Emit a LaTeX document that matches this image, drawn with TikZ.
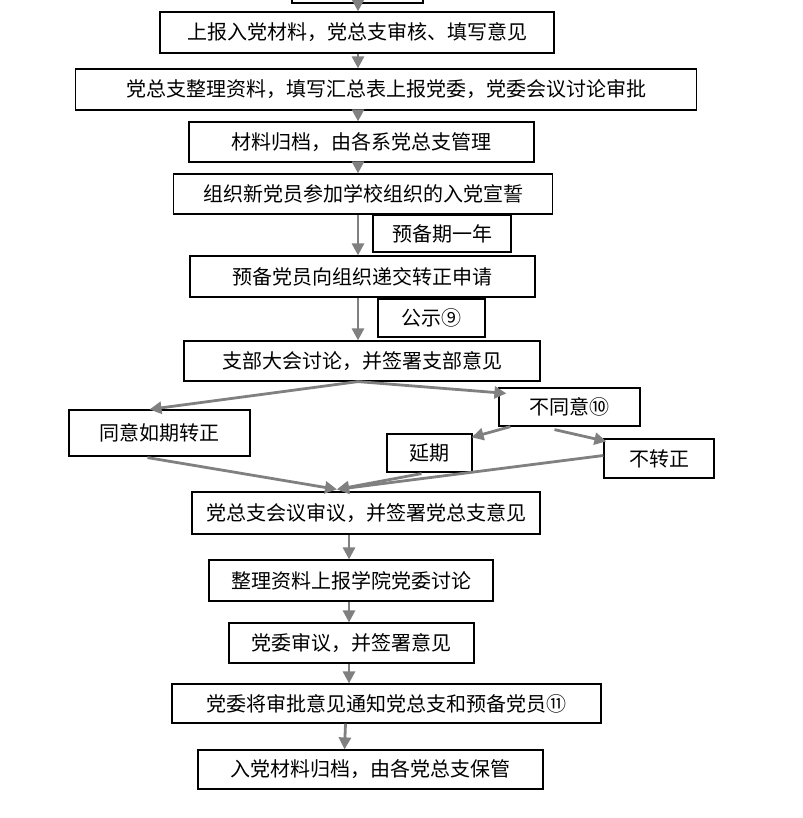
\documentclass[tikz,border=0pt]{standalone}
\usepackage{fontspec}
\setmainfont{Noto Sans CJK SC}
\usetikzlibrary{arrows.meta}
\tikzset{
  stage/.style={draw,line width=1.2pt,fill=white,inner sep=0pt,
    font=\fontsize{20}{22}\selectfont},
  flow/.style={draw=gray,line width=2.8pt,
    -{Triangle[length=12pt,width=12pt]}}
}
\begin{document}
\begin{tikzpicture}[x=1pt,y=-1pt]
\path[use as bounding box,clip] (0,0) rectangle (802,818);
\coordinate (spine) at (358,0);
\coordinate (lowspine) at (349,0);
\node[stage,minimum width=131,minimum height=40] (prev) at (357.5,-17) {};
\node[stage,minimum width=394,minimum height=41] (report) at (357,32.5)
  {上报入党材料，党总支审核、填写意见};
\node[stage,minimum width=621,minimum height=41] (summary) at (386,89.5)
  {党总支整理资料，填写汇总表上报党委，党委会议讨论审批};
\node[stage,minimum width=345,minimum height=40] (archive) at (361.5,142)
  {材料归档，由各系党总支管理};
\node[stage,minimum width=379,minimum height=40] (oath) at (363,194)
  {组织新党员参加学校组织的入党宣誓};
\node[stage,minimum width=138,minimum height=37] (probation) at (442,233.5)
  {预备期一年};
\node[stage,minimum width=345,minimum height=41] (apply) at (362.5,276.5)
  {预备党员向组织递交转正申请};
\node[stage,minimum width=107,minimum height=38] (publicity) at (431.5,318)
  {公示⑨};
\node[stage,minimum width=356,minimum height=40] (meeting) at (362,361)
  {支部大会讨论，并签署支部意见};
\node[stage,minimum width=181,minimum height=46] (agree) at (159.5,433)
  {同意如期转正};
\node[stage,minimum width=141,minimum height=38] (disagree) at (569.5,407)
  {不同意⑩};
\node[stage,minimum width=85,minimum height=38] (delay) at (429.5,453)
  {延期};
\node[stage,minimum width=110,minimum height=39] (reject) at (659,458.5)
  {不转正};
\node[stage,minimum width=348,minimum height=42] (trial) at (366,513)
  {党总支会议审议，并签署党总支意见};
\node[stage,minimum width=284,minimum height=41] (upload) at (351,580.5)
  {整理资料上报学院党委讨论};
\node[stage,minimum width=245,minimum height=40] (review) at (351.5,643)
  {党委审议，并签署意见};
\node[stage,minimum width=429,minimum height=39] (notice) at (386.5,703.5)
  {党委将审批意见通知党总支和预备党员⑪};
\node[stage,minimum width=345,minimum height=39] (store) at (370.5,769.5)
  {入党材料归档，由各党总支保管};
\draw[flow] (prev.south -| spine) -- (report.north -| spine);
\draw[flow] (report.south -| spine) -- (summary.north -| spine);
\draw[flow] (summary.south -| spine) -- (archive.north -| spine);
\draw[flow] (archive.south -| spine) -- (oath.north -| spine);
\draw[flow] (oath.south -| spine) -- (apply.north -| spine);
\draw[flow] (apply.south -| spine) -- (meeting.north -| spine);
\draw[flow] (meeting.south -| spine) -- ([xshift=-10]agree.north);
\draw[flow] (meeting.south -| spine) -- ([shift={(8,6)}]disagree.north west);
\draw[flow] ([xshift=12]disagree.south west) -- ([shift={(-1,4)}]delay.north east);
\draw[flow] ([shift={(-15,3)}]disagree.south) -- ([shift={(3,3)}]reject.north west);
\coordinate (merge) at ([shift={(-29,-2)}]trial.north);
\draw[flow] ([shift={(-12,1)}]agree.south) -- (merge);
\draw[flow] ([shift={(-8,1)}]delay.south) -- (merge);
\draw[flow] ([yshift=3]reject.west) -- (merge);
\draw[flow] (trial.south -| lowspine) -- (upload.north -| lowspine);
\draw[flow] (upload.south -| lowspine) -- (review.north -| lowspine);
\draw[flow] (review.south -| lowspine) -- (notice.north -| lowspine);
\draw[flow] ([xshift=-41]notice.south) -- ([xshift=-26]store.north);
\end{tikzpicture}
\end{document}
